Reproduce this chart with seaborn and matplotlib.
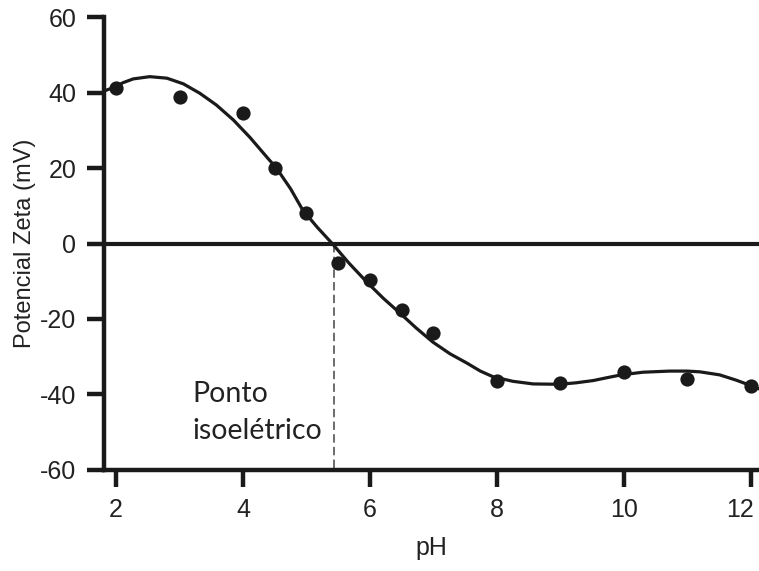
import matplotlib
matplotlib.use("Agg")
import matplotlib.pyplot as plt
import matplotlib.transforms as mtransforms
import seaborn as sns
import pandas as pd

# measured points
ph_points = [2, 3, 4, 4.5, 5, 5.5, 6, 6.5, 7, 8, 9, 10, 11, 12]
zeta_points = [41.1, 38.7, 34.5, 20.0, 8.1, -5.2, -9.7, -17.7, -23.8, -36.4, -36.9, -34.0, -36.0, -37.7]

# fitted curve
ph_curve = [1.81, 1.96, 2.11, 2.27, 2.53, 2.80, 3.06, 3.32, 3.58, 3.85, 4.11, 4.37, 4.53, 4.75,
            4.94, 5.17, 5.40, 5.67, 5.95, 6.21, 6.47, 6.73, 6.99, 7.26, 7.53, 7.74, 7.94, 8.25,
            8.57, 8.99, 9.25, 9.52, 9.75, 9.96, 10.3, 10.72, 11.0, 11.2, 11.51, 11.77, 11.98, 12.13]
zeta_curve = [40.4, 41.3, 42.6, 43.6, 44.2, 43.8, 42.3, 39.8, 36.7, 32.7, 28.1, 23.0, 19.9, 14.5,
              8.9, 4.3, 0.1, -5.2, -10.2, -14.5, -18.4, -22.4, -26.1, -29.2, -31.7, -33.8, -35.3, -36.5,
              -37.2, -37.3, -36.9, -36.3, -35.5, -34.8, -34.1, -33.8, -33.8, -34.0, -34.8, -36.2, -37.5, -38.5]

y_ticks = [-60, -40, -20, 0, 20, 40, 60]
x_ticks = [2, 4, 6, 8, 10, 12]
iso_ph = 5.43

sns.set_theme(style="white")
plt.rcParams['font.family'] = ['Liberation Sans', 'DejaVu Sans']

fig = plt.figure(figsize=(7.59, 5.71), dpi=100)
ax = fig.add_axes([0.137, 0.1769, 0.863, 0.7933])

ink = "#1a1a1a"
txt = "#222222"
df_c = pd.DataFrame({"pH": ph_curve, "zeta": zeta_curve})
df_p = pd.DataFrame({"pH": ph_points, "zeta": zeta_points})

sns.lineplot(data=df_c, x="pH", y="zeta", ax=ax, color=ink, linewidth=2.3, sort=False, zorder=3,
             solid_joinstyle="round", solid_capstyle="round")
sns.scatterplot(data=df_p, x="pH", y="zeta", ax=ax, color=ink, s=105, edgecolor=ink, linewidth=0, zorder=4)

ax.axhline(0, color=ink, linewidth=3.0, zorder=2)
ax.plot([iso_ph, iso_ph], [0, -60], color="#444444", linestyle=(0, (5.5, 2.8)), linewidth=1.1, zorder=1)

ax.text(3.21, -42.0, "Ponto", fontsize=20.5, color=txt, va="baseline", ha="left",
        family=["Lato", "DejaVu Sans"])
ax.text(3.21, -51.8, "isoelétrico", fontsize=20.5, color=txt, va="baseline", ha="left",
        family=["Lato", "DejaVu Sans"])

ax.set_xlim(1.81, 12.13)
ax.set_ylim(-60, 60)
ax.set_xticks(x_ticks)
ax.set_yticks(y_ticks)
ax.set_xticklabels([str(v) for v in x_ticks])
ax.set_yticklabels([str(v) for v in y_ticks])
ax.tick_params(axis="both", direction="out", length=12, width=3.2, color=ink,
               labelsize=18, labelcolor=txt, pad=8, left=True, bottom=True)
for side in ["top", "right"]:
    ax.spines[side].set_visible(False)
for side in ["left", "bottom"]:
    ax.spines[side].set_linewidth(3.2)
    ax.spines[side].set_color(ink)
    ax.spines[side].set_capstyle("projecting")

# nudge the last x tick label left so it stays inside the figure, as in the reference
last = ax.get_xticklabels()[-1]
last.set_transform(last.get_transform() + mtransforms.ScaledTranslation(-8 / 72, 0, fig.dpi_scale_trans))

ax.set_xlabel("pH", fontsize=18, color=txt, labelpad=10)
ax.set_ylabel("Potencial Zeta (mV)", fontsize=17, color=txt, labelpad=3)

fig.savefig("out.png", dpi=100)
